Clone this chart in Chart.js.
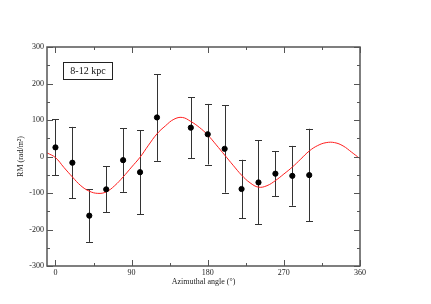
<!DOCTYPE html>
<html>
<head>
<meta charset="utf-8">
<script src="https://cdn.jsdelivr.net/npm/chart.js@4/dist/chart.umd.min.js"></script>
<style>
  body { margin: 0; background: #fff; }
  canvas { display: block; }
</style>
</head>
<body>
<canvas id="ctx1" width="431" height="304"></canvas>
<script>
// measured RM per azimuthal bin
const angles = [0, 20, 40, 60, 80, 100, 120, 160, 180, 200, 220, 240, 260, 280, 300];
const rm = [25, -17, -162, -90, -10, -43, 107, 79, 61, 21, -89, -71, -47, -53, -51];
const rmErr = [77, 98, 72, 63, 87, 115, 119, 83, 83, 120, 80, 115, 62, 82, 127];

// fitted model curve
const curveX = [-10, 0, 10, 20, 30, 40, 50, 60, 70, 80, 90, 100, 110, 120, 130, 140, 150, 160, 170, 180,
    190, 200, 210, 220, 230, 240, 250, 260, 270, 280, 290, 300, 310, 320, 330, 340, 350, 360];
const curveY = [10, -3, -30, -56, -80, -95, -101, -97, -80, -56, -29, -2, 31, 62, 84, 102, 107, 96, 80, 59,
    32, 4, -24, -51, -72, -84, -80, -66, -48, -29, -7, 15, 30, 38, 38, 29, 12, -6];

const xMajor = [0, 90, 180, 270, 360];
const xMinor = [45, 135, 225, 315];
const yMajor = [-300, -200, -100, 0, 100, 200, 300];
const yMinor = [-250, -150, -50, 50, 150, 250];

const serif = 'Liberation Serif, Times New Roman, serif';

const frame = {
    id: 'frame',
    beforeDatasetsDraw(chart) {
        const ctx = chart.ctx;
        const xs = chart.scales.x, ys = chart.scales.y;
        ctx.save();
        ctx.strokeStyle = '#333';
        ctx.lineWidth = 1;
        angles.forEach((a, i) => {
            const px = Math.round(xs.getPixelForValue(a)) + 0.5;
            const top = ys.getPixelForValue(rm[i] + rmErr[i]);
            const bot = ys.getPixelForValue(rm[i] - rmErr[i]);
            ctx.beginPath();
            ctx.moveTo(px, top); ctx.lineTo(px, bot);
            ctx.moveTo(px - 3.5, Math.round(top) + 0.5); ctx.lineTo(px + 3.5, Math.round(top) + 0.5);
            ctx.moveTo(px - 3.5, Math.round(bot) + 0.5); ctx.lineTo(px + 3.5, Math.round(bot) + 0.5);
            ctx.stroke();
        });
        ctx.restore();
    },
    afterDraw(chart) {
        const ctx = chart.ctx;
        const a = chart.chartArea;
        const xs = chart.scales.x, ys = chart.scales.y;
        ctx.save();
        ctx.strokeStyle = '#555';
        ctx.lineWidth = 1.5;
        ctx.strokeRect(a.left, a.top, a.right - a.left, a.bottom - a.top);
        ctx.lineWidth = 1;
        ctx.beginPath();
        const tickX = (v, len) => {
            const px = Math.round(xs.getPixelForValue(v)) + 0.5;
            ctx.moveTo(px, a.bottom); ctx.lineTo(px, a.bottom - len);
            ctx.moveTo(px, a.top); ctx.lineTo(px, a.top + len);
        };
        const tickY = (v, len) => {
            const py = Math.round(ys.getPixelForValue(v)) + 0.5;
            ctx.moveTo(a.left, py); ctx.lineTo(a.left + len, py);
            ctx.moveTo(a.right, py); ctx.lineTo(a.right - len, py);
        };
        xMajor.forEach(v => tickX(v, 6));
        xMinor.forEach(v => tickX(v, 3));
        yMajor.forEach(v => tickY(v, 6));
        yMinor.forEach(v => tickY(v, 3));
        ctx.stroke();

        // legend box
        const bx = a.left + 16, by = a.top + 15;
        ctx.strokeStyle = '#222';
        ctx.lineWidth = 1;
        ctx.strokeRect(bx + 0.5, by + 0.5, 49, 17);
        ctx.fillStyle = '#111';
        ctx.font = '10px ' + serif;
        ctx.textAlign = 'center';
        ctx.textBaseline = 'middle';
        ctx.fillText('8-12 kpc', bx + 25, by + 9.5);
        ctx.restore();
    }
};

new Chart(document.getElementById('ctx1'), {
    type: 'scatter',
    data: {
        datasets: [{
            label: 'RM',
            data: angles.map((a, i) => ({ x: a, y: rm[i] })),
            backgroundColor: '#000',
            borderColor: '#000',
            pointRadius: 2.6,
            order: 0
        }, {
            type: 'line',
            label: 'fit',
            data: curveX.map((a, i) => ({ x: a, y: curveY[i] })),
            borderColor: 'rgb(255, 30, 30)',
            borderWidth: 1,
            pointRadius: 0,
            tension: 0.4,
            fill: false,
            order: 1
        }]
    },
    plugins: [frame],
    options: {
        responsive: false,
        animation: false,
        layout: { padding: { left: 0, top: 47, right: 71, bottom: 0 } },
        plugins: { legend: { display: false }, tooltip: { enabled: false } },
        scales: {
            x: {
                type: 'linear', min: -10, max: 360,
                afterBuildTicks: s => { s.ticks = xMajor.map(v => ({ value: v })); },
                afterFit: s => { s.height = 38; },
                grid: { display: false, drawTicks: false },
                border: { display: false },
                ticks: { autoSkip: false, maxRotation: 0, padding: 2, color: '#222', font: { family: serif, size: 8 } },
                title: { display: true, text: 'Azimuthal angle (°)', color: '#222', padding: { top: 0, bottom: 17 }, font: { family: serif, size: 8 } }
            },
            y: {
                min: -300, max: 300,
                afterBuildTicks: s => { s.ticks = yMajor.map(v => ({ value: v })); },
                afterFit: s => { s.width = 47; },
                grid: { display: false, drawTicks: false },
                border: { display: false },
                ticks: { autoSkip: false, padding: 3, color: '#222', font: { family: serif, size: 8 } },
                title: { display: true, text: 'RM (rad/m²)', color: '#222', padding: { top: 16, bottom: 0 }, font: { family: serif, size: 8 } }
            }
        }
    }
});
</script>
</body>
</html>
